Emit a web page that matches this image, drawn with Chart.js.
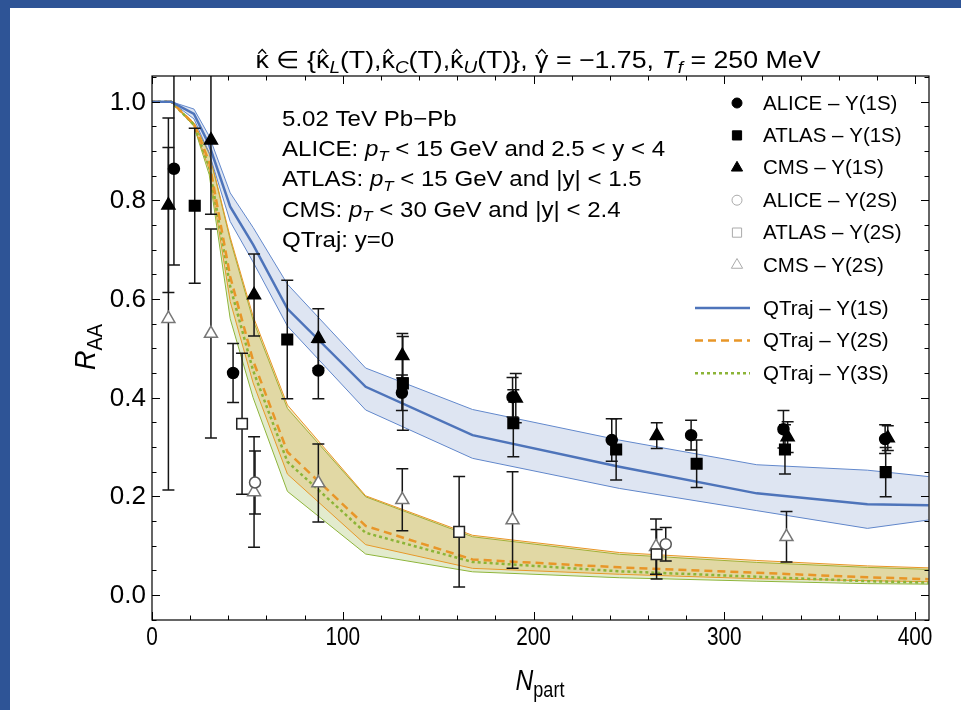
<!DOCTYPE html>
<html>
<head>
<meta charset="utf-8">
<script src="https://cdn.jsdelivr.net/npm/chart.js@4.4.0/dist/chart.umd.min.js"></script>
<style>
  html, body { margin: 0; padding: 0; background: #fff; }
  #wrap { position: relative; width: 961px; height: 710px; overflow: hidden; }
  #edgeLeft { position: absolute; left: 0; top: 0; width: 10px; height: 710px; background: #2e5496; }
  #edgeTop { position: absolute; left: 0; top: 0; width: 961px; height: 8px; background: #2e5496; }
  canvas { position: absolute; left: 0; top: 0; }
</style>
</head>
<body>
<div id="wrap">
  <canvas id="raaChart" width="961" height="710"></canvas>
  <div id="edgeLeft"></div>
  <div id="edgeTop"></div>
</div>
<script>
// QTraj model curves, evaluated on a common N_part grid
const nPart = [0, 10, 22, 30, 41, 53, 71, 112, 168, 245, 317, 375, 407];
const ups1sHigh = [1.0, 1.0, 0.985, 0.93, 0.815, 0.745, 0.63, 0.46, 0.376, 0.314, 0.264, 0.253, 0.240];
const ups1sMid = [1.0, 1.0, 0.975, 0.912, 0.787, 0.71, 0.58, 0.422, 0.324, 0.26, 0.206, 0.184, 0.182];
const ups1sLow = [1.0, 1.0, 0.965, 0.895, 0.757, 0.675, 0.545, 0.375, 0.277, 0.216, 0.171, 0.135, 0.152];
const ups2sHigh = [1.0, 1.0, 0.957, 0.897, 0.725, 0.565, 0.385, 0.201, 0.121, 0.086, 0.07, 0.059, 0.055];
const ups2sMid = [1.0, 1.0, 0.955, 0.878, 0.645, 0.475, 0.29, 0.14, 0.072, 0.056, 0.045, 0.036, 0.032];
const ups2sLow = [1.0, 1.0, 0.952, 0.862, 0.595, 0.43, 0.245, 0.102, 0.054, 0.042, 0.033, 0.029, 0.027];
const ups3sHigh = [1.0, 1.0, 0.955, 0.895, 0.72, 0.557, 0.378, 0.199, 0.118, 0.0825, 0.066, 0.056, 0.052];
const ups3sMid = [1.0, 1.0, 0.953, 0.868, 0.625, 0.455, 0.27, 0.126, 0.067, 0.048, 0.037, 0.028, 0.025];
const ups3sLow = [1.0, 1.0, 0.95, 0.852, 0.56, 0.40, 0.21, 0.083, 0.047, 0.035, 0.028, 0.023, 0.022];

// measurements: N_part, R_AA, symmetric error
const alice1sN = [11.5, 42.5, 87.2, 131, 189, 241, 282.6, 331, 384.3];
const alice1sR = [0.864, 0.450, 0.455, 0.410, 0.401, 0.314, 0.324, 0.336, 0.316];
const alice1sE = [0.195, 0.06, 0.057, 0.036, 0.04, 0.043, 0.03, 0.038, 0.029];

const atlas1sN = [22.4, 70.9, 131.5, 189.4, 243.3, 285.5, 331.8, 384.6];
const atlas1sR = [0.789, 0.518, 0.429, 0.348, 0.295, 0.266, 0.295, 0.249];
const atlas1sE = [0.157, 0.12, 0.095, 0.068, 0.062, 0.048, 0.05, 0.05];

const cms1sN = [8.6, 30.9, 53.5, 87.2, 131.2, 190.7, 264.6, 333.2, 385.7];
const cms1sR = [0.79, 0.922, 0.608, 0.52, 0.485, 0.399, 0.323, 0.32, 0.318];
const cms1sE = [0.177, 0.15, 0.083, 0.06, 0.045, 0.05, 0.026, 0.031, 0.025];

const alice2sN = [54, 269.3];
const alice2sR = [0.228, 0.103];
const alice2sE = [0.064, 0.034];

const atlas2sN = [47.2, 161, 264.5];
const atlas2sR = [0.347, 0.128, 0.0825];
const atlas2sE = [0.143, 0.112, 0.05];

const cms2sN = [8.6, 30.9, 53.5, 87.2, 131.2, 189, 264.2, 332.6];
const cms2sR = [0.56, 0.530, 0.209, 0.227, 0.193, 0.152, 0.098, 0.118];
const cms2sE = [0.347, 0.212, 0.112, 0.079, 0.063, 0.098, 0.056, 0.051];

const xTicks = [0, 100, 200, 300, 400];
const yTicks = [0.0, 0.2, 0.4, 0.6, 0.8, 1.0];

const FONT = '"Liberation Sans", Arial, sans-serif';

function pts(xs, ys) {
  return xs.map((x, i) => ({ x: x, y: ys[i] }));
}

function markerSet(label, xs, ys, errs, style, radius, fill, stroke) {
  return {
    label: label,
    data: pts(xs, ys),
    errs: errs,
    showLine: false,
    pointStyle: style,
    pointRadius: radius,
    pointBackgroundColor: fill,
    pointBorderColor: stroke,
    pointBorderWidth: 1.5,
  };
}

function curveSet(label, ys, color, width, dash, fill, bg) {
  return {
    label: label,
    data: pts(nPart, ys),
    borderColor: color,
    borderWidth: width,
    borderDash: dash || [],
    pointRadius: 0,
    tension: 0,
    fill: fill || false,
    backgroundColor: bg || 'rgba(0,0,0,0)',
  };
}

// text with italic / subscript / hat pieces
function fontFor(p, size) {
  const s = p.sub ? Math.round(size * 0.72) : size;
  return (p.it ? 'italic ' : '') + s + 'px ' + FONT;
}
function richWidth(ctx, parts, size) {
  let w = 0;
  parts.forEach((p) => {
    ctx.font = fontFor(p, size);
    w += ctx.measureText(p.t).width;
  });
  return w;
}
function drawRich(ctx, parts, x, y, size, align, sx) {
  ctx.save();
  ctx.translate(x, y);
  ctx.scale(sx || 1, 1);
  const w = richWidth(ctx, parts, size);
  let cx = align === 'center' ? -w / 2 : align === 'right' ? -w : 0;
  ctx.textAlign = 'left';
  ctx.textBaseline = 'alphabetic';
  parts.forEach((p) => {
    ctx.font = fontFor(p, size);
    const pw = ctx.measureText(p.t).width;
    ctx.fillText(p.t, cx, p.sub ? size * 0.22 : 0);
    if (p.hat) {
      const mid = cx + pw / 2;
      const top = -size * 0.56;
      ctx.save();
      ctx.strokeStyle = ctx.fillStyle;
      ctx.lineWidth = 1.3;
      ctx.beginPath();
      ctx.moveTo(mid - 3.5, top - 1);
      ctx.lineTo(mid, top - 5);
      ctx.lineTo(mid + 3.5, top - 1);
      ctx.stroke();
      ctx.restore();
    }
    cx += pw;
  });
  ctx.restore();
}

const errorBars = {
  id: 'errorBars',
  beforeDatasetsDraw() {
    this.done = false;
  },
  beforeDatasetDraw(chart, args) {
    const ds = chart.data.datasets[args.index];
    if (this.done || !ds.errs) return;
    this.done = true;
    const ctx = chart.ctx;
    const xs = chart.scales.x;
    const ys = chart.scales.y;
    const a = chart.chartArea;
    ctx.save();
    ctx.beginPath();
    ctx.rect(a.left, a.top, a.right - a.left, a.bottom - a.top);
    ctx.clip();
    ctx.strokeStyle = '#151515';
    ctx.lineWidth = 1.5;
    chart.data.datasets.forEach((d) => {
      if (!d.errs) return;
      d.data.forEach((p, i) => {
        const px = xs.getPixelForValue(p.x);
        const top = ys.getPixelForValue(p.y + d.errs[i]);
        const bot = ys.getPixelForValue(p.y - d.errs[i]);
        ctx.beginPath();
        ctx.moveTo(px, top);
        ctx.lineTo(px, bot);
        ctx.moveTo(px - 6, top);
        ctx.lineTo(px + 6, top);
        ctx.moveTo(px - 6, bot);
        ctx.lineTo(px + 6, bot);
        ctx.stroke();
      });
    });
    ctx.restore();
  },
};

const frameAndText = {
  id: 'frameAndText',
  afterDraw(chart) {
    const ctx = chart.ctx;
    const a = chart.chartArea;
    const xs = chart.scales.x;
    const ys = chart.scales.y;
    ctx.save();

    // frame
    ctx.strokeStyle = '#000';
    ctx.lineWidth = 1.2;
    ctx.strokeRect(a.left, a.top, a.right - a.left, a.bottom - a.top);

    // inward ticks on all four sides
    ctx.lineWidth = 1;
    ctx.beginPath();
    for (let v = 0; v <= 400; v += 20) {
      const px = Math.round(xs.getPixelForValue(v)) + 0.5;
      const len = v % 100 === 0 ? 8 : 4.5;
      ctx.moveTo(px, a.bottom);
      ctx.lineTo(px, a.bottom - len);
      ctx.moveTo(px, a.top);
      ctx.lineTo(px, a.top + len);
    }
    for (let i = -1; i <= 21; i++) {
      const py = Math.round(ys.getPixelForValue(i * 0.05)) + 0.5;
      const len = i % 4 === 0 ? 8 : 4.5;
      ctx.moveTo(a.left, py);
      ctx.lineTo(a.left + len, py);
      ctx.moveTo(a.right, py);
      ctx.lineTo(a.right - len, py);
    }
    ctx.stroke();

    // tick labels
    ctx.fillStyle = '#000';
    ctx.font = '26px ' + FONT;
    ctx.textAlign = 'right';
    ctx.textBaseline = 'middle';
    yTicks.forEach((v) => {
      ctx.fillText(v.toFixed(1), a.left - 6, ys.getPixelForValue(v) + 1);
    });
    xTicks.forEach((v) => {
      ctx.save();
      ctx.translate(xs.getPixelForValue(v), 638);
      ctx.scale(0.8, 1);
      ctx.textAlign = 'center';
      ctx.fillText(String(v), 0, 0);
      ctx.restore();
    });

    // axis titles
    ctx.save();
    ctx.translate(95, 347);
    ctx.rotate(-Math.PI / 2);
    drawRich(ctx, [{ t: 'R', it: true }, { t: 'AA', sub: true }], 0, 0, 30, 'center', 0.9);
    ctx.restore();
    drawRich(ctx, [{ t: 'N', it: true }, { t: 'part', sub: true }], 540, 690, 30, 'center', 0.82);

    // title
    const title = [
      { t: 'κ', hat: true }, { t: ' ∈ {' }, { t: 'κ', hat: true }, { t: 'L', it: true, sub: true }, { t: '(T),' },
      { t: 'κ', hat: true }, { t: 'C', it: true, sub: true }, { t: '(T),' },
      { t: 'κ', hat: true }, { t: 'U', it: true, sub: true }, { t: '(T)}, ' },
      { t: 'γ', hat: true }, { t: ' = −1.75, ' }, { t: 'T', it: true }, { t: 'f', it: true, sub: true },
      { t: ' = 250 MeV' },
    ];
    const tw = richWidth(ctx, title, 24);
    drawRich(ctx, title, 538, 68, 24, 'center', 565 / tw);

    // info block
    const pT = [{ t: 'p', it: true }, { t: 'T', it: true, sub: true }];
    const info = [
      [{ t: '5.02 TeV Pb−Pb' }],
      [{ t: 'ALICE: ' }].concat(pT, [{ t: ' < 15 GeV and 2.5 < y < 4' }]),
      [{ t: 'ATLAS: ' }].concat(pT, [{ t: ' < 15 GeV and |y| < 1.5' }]),
      [{ t: 'CMS: ' }].concat(pT, [{ t: ' < 30 GeV and |y| < 2.4' }]),
      [{ t: 'QTraj: y=0' }],
    ];
    info.forEach((line, i) => {
      drawRich(ctx, line, 282, 126 + i * 30.2, 21.5, 'left', 1.12);
    });

    // legend
    const rows = chart.data.datasets.filter((d) => d.legendRow !== undefined);
    rows.forEach((d) => {
      const y = d.legendRow < 6 ? 103 + d.legendRow * 32.4 : 308 + (d.legendRow - 6) * 32.6;
      ctx.save();
      if (d.showLine === false) {
        ctx.fillStyle = d.legendFill;
        ctx.strokeStyle = d.legendStroke;
        Chart.helpers.drawPoint(ctx, {
          pointStyle: d.pointStyle,
          radius: d.legendRadius,
          borderWidth: 1.3,
          rotation: 0,
        }, 737, y);
      } else {
        ctx.strokeStyle = d.borderColor;
        ctx.lineWidth = d.borderWidth;
        ctx.setLineDash(d.borderDash);
        ctx.beginPath();
        ctx.moveTo(695, y);
        ctx.lineTo(750, y);
        ctx.stroke();
      }
      ctx.restore();
      ctx.fillStyle = '#000';
      ctx.font = '20.5px ' + FONT;
      ctx.textAlign = 'left';
      ctx.textBaseline = 'middle';
      ctx.fillText(d.label, 763, y + 1);
    });

    ctx.restore();
  },
};

const blueLine = 'rgb(78,116,186)';
const blueEdge = 'rgb(98,136,204)';
const orange = 'rgb(232,150,40)';
const green = 'rgb(140,180,55)';

const datasets = [
  markerSet('ALICE – Υ(1S)', alice1sN, alice1sR, alice1sE, 'circle', 5.5, '#000', '#000'),
  markerSet('ATLAS – Υ(1S)', atlas1sN, atlas1sR, atlas1sE, 'rect', 7.5, '#000', '#000'),
  markerSet('CMS – Υ(1S)', cms1sN, cms1sR, cms1sE, 'triangle', 7.5, '#000', '#000'),
  markerSet('ALICE – Υ(2S)', alice2sN, alice2sR, alice2sE, 'circle', 5.5, '#fff', '#555'),
  markerSet('ATLAS – Υ(2S)', atlas2sN, atlas2sR, atlas2sE, 'rect', 7.5, '#fff', '#222'),
  markerSet('CMS – Υ(2S)', cms2sN, cms2sR, cms2sE, 'triangle', 7.5, '#fff', '#777'),
  curveSet('QTraj – Υ(1S)', ups1sMid, blueLine, 2.5),
  curveSet('QTraj – Υ(2S)', ups2sMid, orange, 2.5, [8, 5]),
  curveSet('QTraj – Υ(3S)', ups3sMid, green, 2.5, [3, 3]),
  curveSet('1S upper', ups1sHigh, blueEdge, 1, null, '+1', 'rgba(90,125,190,0.2)'),
  curveSet('1S lower', ups1sLow, blueEdge, 1),
  curveSet('2S upper', ups2sHigh, orange, 1, null, '+1', 'rgba(220,165,55,0.27)'),
  curveSet('2S lower', ups2sLow, orange, 1),
  curveSet('3S upper', ups3sHigh, green, 1, null, '+1', 'rgba(160,190,90,0.3)'),
  curveSet('3S lower', ups3sLow, green, 1),
];

// legend appearance
datasets.slice(0, 9).forEach((d, i) => {
  d.legendRow = i;
});
datasets.slice(0, 6).forEach((d, i) => {
  d.legendFill = i < 3 ? '#000' : '#fff';
  d.legendStroke = i < 3 ? '#000' : '#aaa';
  d.legendRadius = d.pointStyle === 'circle' ? 5 : 6.5;
});

const ctx = document.getElementById('raaChart').getContext('2d');
const raaChart = new Chart(ctx, {
  type: 'line',
  data: { datasets: datasets },
  options: {
    responsive: false,
    animation: false,
    events: [],
    layout: { padding: { left: 152, right: 32, top: 76, bottom: 90 } },
    plugins: {
      legend: { display: false },
      tooltip: { enabled: false },
      filler: { propagate: false },
    },
    scales: {
      x: { type: 'linear', min: 0, max: 407.3, display: false },
      y: { type: 'linear', min: -0.0507, max: 1.052, display: false },
    },
  },
  plugins: [errorBars, frameAndText],
});
</script>
</body>
</html>
